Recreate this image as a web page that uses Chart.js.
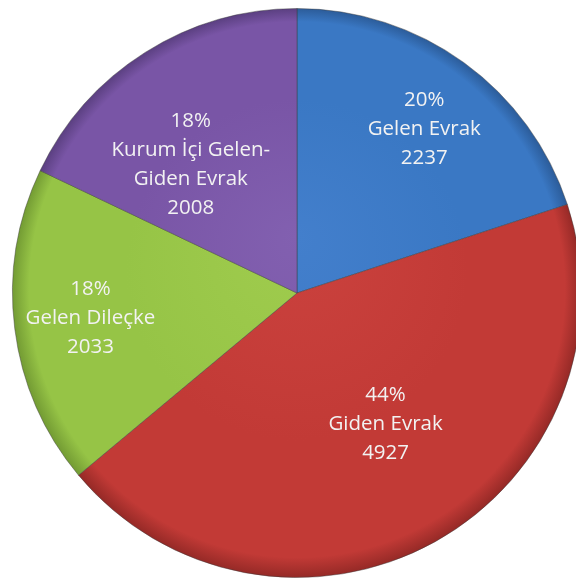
<!DOCTYPE html>
<html>
<head>
<meta charset="utf-8">
<script src="https://cdn.jsdelivr.net/npm/chart.js@4"></script>
<style>
    html, body { margin: 0; padding: 0; background: #fff; overflow: hidden; width: 576px; height: 580px; }
    #wrap { position: absolute; left: 0; top: 0; width: 594px; height: 586px; }
</style>
</head>
<body>
<div id="wrap"><canvas id="pieChart" width="594" height="586"></canvas></div>
<script>
document.addEventListener('DOMContentLoaded', () => {
    // Data
    const categories = ['Gelen Evrak', 'Giden Evrak', 'Gelen Dileçke', 'Kurum İçi Gelen-Giden Evrak'];
    const labelLines = [['Gelen Evrak'], ['Giden Evrak'], ['Gelen Dileçke'], ['Kurum İçi Gelen-', 'Giden Evrak']];
    const values = [2237, 4927, 2033, 2008];

    // Slice colours (light, mid, dark) - Excel 2007 style
    const palette = [
        ['#437fcc', '#3a78c4', '#2b5b98'],
        ['#cb423e', '#c23a36', '#942926'],
        ['#a0cc4e', '#96c446', '#729a33'],
        ['#8260b0', '#7955a6', '#5a3f80']
    ];

    function sliceFill(ctx) {
        const chart = ctx.chart;
        const area = chart.chartArea;
        if (!area) return palette[ctx.dataIndex][1];
        const cx = (area.left + area.right) / 2;
        const cy = (area.top + area.bottom) / 2;
        const r = Math.min(area.right - area.left, area.bottom - area.top) / 2;
        const c = palette[ctx.dataIndex];
        const g = chart.ctx.createRadialGradient(cx, cy - r * 0.2, 0, cx, cy, r);
        g.addColorStop(0, c[0]);
        g.addColorStop(0.6, c[1]);
        g.addColorStop(0.94, c[1]);
        g.addColorStop(1, c[2]);
        return g;
    }

    // Draws the percentage / name / value labels inside each slice
    const sliceLabels = {
        id: 'sliceLabels',
        afterDatasetsDraw(chart, args, opts) {
            const ctx = chart.ctx;
            const meta = chart.getDatasetMeta(0);
            const total = values.reduce((a, b) => a + b, 0);
            ctx.save();
            ctx.font = opts.font;
            ctx.fillStyle = opts.color;
            ctx.textAlign = 'center';
            ctx.textBaseline = 'middle';
            meta.data.forEach((arc, i) => {
                const p = arc.getProps(['x', 'y', 'startAngle', 'endAngle', 'outerRadius'], true);
                const mid = (p.startAngle + p.endAngle) / 2;
                const d = p.outerRadius * opts.radial[i];
                const x = p.x + Math.cos(mid) * d + opts.shift[i][0];
                const y = p.y + Math.sin(mid) * d + opts.shift[i][1];
                const lines = [Math.round(values[i] / total * 100) + '%', ...labelLines[i], String(values[i])];
                const top = y - (lines.length - 1) * opts.lineHeight / 2;
                lines.forEach((t, k) => ctx.fillText(t, x, top + k * opts.lineHeight));
            });
            ctx.restore();
        }
    };

    new Chart(document.getElementById('pieChart'), {
        type: 'pie',
        data: {
            labels: categories,
            datasets: [{
                data: values,
                backgroundColor: sliceFill,
                borderColor: 'rgba(60,60,60,0.45)',
                borderWidth: 1
            }]
        },
        options: {
            responsive: false,
            animation: false,
            layout: { padding: 8 },
            plugins: {
                legend: { display: false },
                tooltip: { enabled: false },
                sliceLabels: {
                    font: '20.5px "Open Sans", sans-serif',
                    color: '#f2f2f2',
                    lineHeight: 29,
                    radial: [0.72, 0.57, 0.7, 0.66],
                    shift: [[7, 2], [10, -11], [-9, 0], [-6, 30]]
                }
            }
        },
        plugins: [sliceLabels]
    });
});
</script>
</body>
</html>
